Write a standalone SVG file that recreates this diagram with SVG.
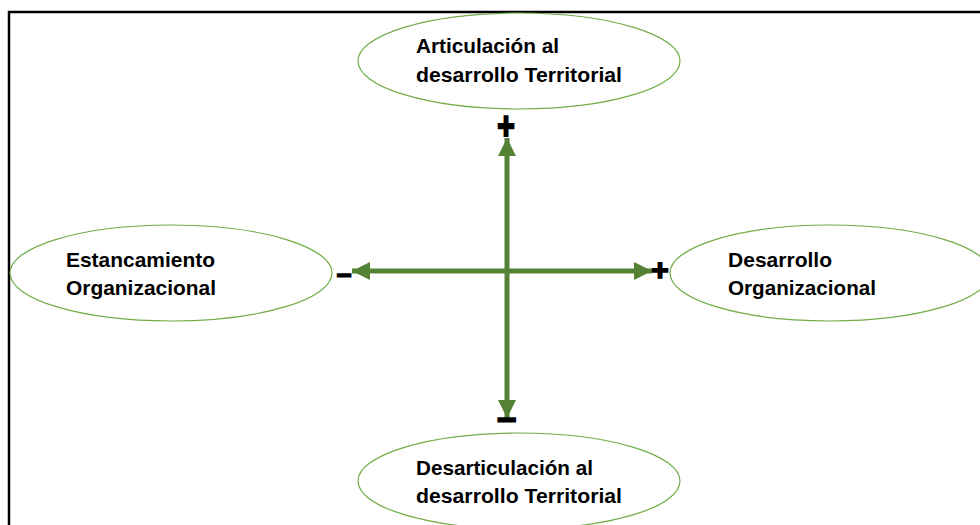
<svg xmlns="http://www.w3.org/2000/svg" width="980" height="525" viewBox="0 0 980 525">
<defs>
<style>
.node ellipse{fill:#fff;stroke:#70ad47;stroke-width:1.2}
.lbl{font-family:"Liberation Sans",Arial,sans-serif;font-weight:bold;font-size:20.5px;fill:#000}
.sign{font-family:"Liberation Sans",Arial,sans-serif;font-weight:bold;fill:#000;stroke:#000;stroke-width:1.6;text-anchor:middle}
.conn{stroke:#548235;stroke-width:5;fill:none}
</style>
<marker id="ah" viewBox="0 0 10 10" refX="10" refY="5" markerWidth="3.6" markerHeight="3.6" markerUnits="strokeWidth" orient="auto-start-reverse">
<path d="M0,0 L10,5 L0,10 Z" fill="#548235"/>
</marker>
</defs>
<rect width="980" height="525" fill="#fff"/>
<rect x="9" y="12" width="1000" height="540" fill="none" stroke="#000" stroke-width="2.5"/>

<g id="node-top" class="node">
<ellipse cx="519" cy="61" rx="161" ry="48"/>
<text class="lbl" x="416" y="53" textLength="143" lengthAdjust="spacingAndGlyphs">Articulación al</text>
<text class="lbl" x="416" y="82" textLength="206" lengthAdjust="spacingAndGlyphs">desarrollo Territorial</text>
</g>
<g id="node-left" class="node">
<ellipse cx="171" cy="273" rx="161" ry="48"/>
<text class="lbl" x="66" y="267" textLength="149" lengthAdjust="spacingAndGlyphs">Estancamiento</text>
<text class="lbl" x="66" y="295" textLength="150" lengthAdjust="spacingAndGlyphs">Organizacional</text>
</g>
<g id="node-right" class="node">
<ellipse cx="830" cy="273" rx="160" ry="48"/>
<text class="lbl" x="728" y="267" textLength="104" lengthAdjust="spacingAndGlyphs">Desarrollo</text>
<text class="lbl" x="728" y="295" textLength="148" lengthAdjust="spacingAndGlyphs">Organizacional</text>
</g>
<g id="node-bottom" class="node">
<ellipse cx="519" cy="481" rx="161" ry="48"/>
<text class="lbl" x="416" y="475" textLength="177" lengthAdjust="spacingAndGlyphs">Desarticulación al</text>
<text class="lbl" x="416" y="503" textLength="206" lengthAdjust="spacingAndGlyphs">desarrollo Territorial</text>
</g>

<g id="connectors">
<line class="conn" x1="352" y1="271" x2="652" y2="271" marker-start="url(#ah)" marker-end="url(#ah)"/>
<line class="conn" x1="507" y1="138" x2="507" y2="418" marker-start="url(#ah)" marker-end="url(#ah)"/>
<text class="sign" x="506" y="136" font-size="30" transform="translate(506 126) scale(1 1.3) translate(-506 -126)">+</text>
<text class="sign" x="660" y="280" font-size="30">+</text>
<text class="sign" x="344" y="284" font-size="26">−</text>
<text class="sign" x="507" y="431" font-size="34">−</text>
</g>
</svg>
